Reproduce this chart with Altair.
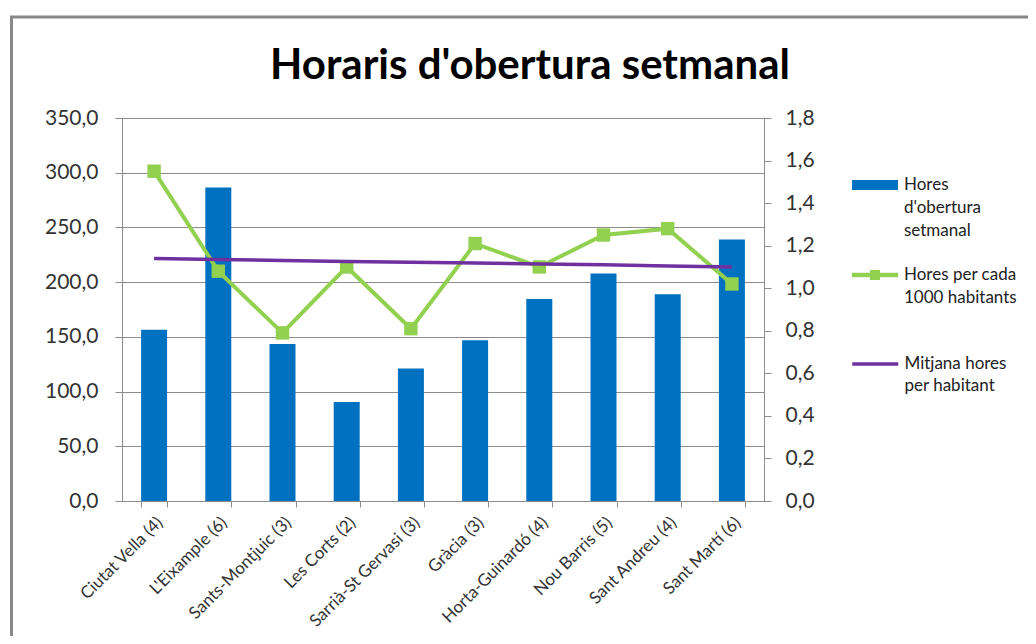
import altair as alt
import pandas as pd

districtes = ["Ciutat Vella (4)", "L'Eixample (6)", "Sants-Montjuic (3)", "Les Corts (2)",
              "Sarrià-St Gervasi (3)", "Gràcia (3)", "Horta-Guinardó (4)", "Nou Barris (5)",
              "Sant Andreu (4)", "Sant Martí (6)"]
hores_setmanal = [156.5, 286.5, 143.5, 90.5, 121.0, 147.0, 184.5, 208.0, 189.0, 239.0]
hores_1000 = [1.55, 1.08, 0.79, 1.10, 0.81, 1.21, 1.10, 1.25, 1.28, 1.02]
mitjana = [1.14, 1.135, 1.13, 1.126, 1.122, 1.118, 1.114, 1.11, 1.105, 1.10]

left_ticks = [0, 50, 100, 150, 200, 250, 300, 350]
right_ticks = [0, 0.2, 0.4, 0.6, 0.8, 1.0, 1.2, 1.4, 1.6, 1.8]

# legend labels, one entry per printed line
lines_bar = ["Hores", "d'obertura", "setmanal"]
lines_green = ["Hores per cada", "1000 habitants"]
lines_purple = ["Mitjana hores", "per habitant"]

df = pd.DataFrame({
    "districte": districtes,
    "hores": hores_setmanal,
    "h1000": hores_1000,
    "mitjana": mitjana,
    "s_bar": lines_bar[0],
    "s_green": lines_green[0],
    "s_purple": lines_purple[0],
})

FONT = "Lato"
GRAY = "#8c8c8c"
BLUE = "#0070c0"
GREEN = "#92d050"
PURPLE = "#7030a0"
NONE = "transparent"
fmt = "replace(format(datum.value, '.1f'), '.', ',')"

xenc = alt.X("districte:N", sort=None, title=None,
             scale=alt.Scale(paddingInner=0.595, paddingOuter=0.2975),
             axis=alt.Axis(labelAngle=-45, labelAlign="right", labelBaseline="top",
                           labelFont=FONT, labelFontSize=17, labelColor="#333333",
                           labelPadding=7, tickBand="extent", tickSize=6, tickColor=GRAY,
                           domainColor=GRAY, labelLimit=300))


def legend(y, path, offset=29, rowpad=3.0, **kw):
    return alt.Legend(orient="none", legendX=730, legendY=y, title=None, padding=0,
                      symbolType=path, symbolSize=529, labelFont=FONT, labelFontSize=17,
                      labelColor="#222222", labelBaseline="middle", labelOffset=offset,
                      labelLimit=400, rowPadding=rowpad, symbolOpacity=1, **kw)


bars = alt.Chart(df).mark_bar(color=BLUE).encode(
    x=xenc,
    y=alt.Y("hores:Q", title=None,
            scale=alt.Scale(domain=[0, 350], nice=False),
            axis=alt.Axis(values=left_ticks, labelExpr=fmt, labelFont=FONT, labelFontSize=21,
                          labelColor="#333333", tickSize=7, tickColor=GRAY, domainColor=GRAY,
                          gridColor=GRAY, labelPadding=17)),
    color=alt.Color("s_bar:N",
                    scale=alt.Scale(domain=lines_bar, range=[BLUE, NONE, NONE]),
                    legend=legend(55.5, "M-1,-0.435H3V0.435H-1Z", symbolStrokeWidth=0)),
)

yright = alt.Y("h1000:Q", title=None,
               scale=alt.Scale(domain=[0, 1.8], nice=False),
               axis=alt.Axis(orient="right", values=right_ticks, labelExpr=fmt, labelFont=FONT,
                             labelFontSize=21, labelColor="#333333", tickSize=7,
                             tickColor=GRAY, domainColor=GRAY, grid=False, labelPadding=14))

green_line = alt.Chart(df).mark_line(strokeWidth=4, color=GREEN).encode(x=xenc, y=yright)

green_pts = alt.Chart(df).mark_point(shape="square", size=180, filled=True, opacity=1).encode(
    x=xenc,
    y=alt.Y("h1000:Q", title=None, scale=alt.Scale(domain=[0, 1.8], nice=False), axis=None),
    color=alt.Color("s_green:N",
                    scale=alt.Scale(domain=lines_green, range=[GREEN, NONE]),
                    legend=legend(145.5, "M-1,-0.2H3V0.2H-1Z M0.565,-0.435H1.435V0.435H0.565Z",
                                  rowpad=2.5, symbolStrokeWidth=0)),
)

purple = alt.Chart(df).mark_line(strokeWidth=3.5).encode(
    x=xenc,
    y=alt.Y("mitjana:Q", title=None, scale=alt.Scale(domain=[0, 1.8], nice=False), axis=None),
    color=alt.Color("s_purple:N",
                    scale=alt.Scale(domain=lines_purple, range=[PURPLE, NONE]),
                    legend=legend(232.5, "M-1.15,0H2.85", offset=25.5, rowpad=0,
                                  symbolStrokeWidth=3.5)),
)

frame_v = alt.Chart(alt.Data(values=[{}])).mark_rule(color="#888888", strokeWidth=3).encode(
    x=alt.value(-110.5), y=alt.value(-102), y2=alt.value(530))
frame_h = alt.Chart(alt.Data(values=[{}])).mark_rule(color="#888888", strokeWidth=3).encode(
    x=alt.value(-112), x2=alt.value(910), y=alt.value(-101))

chart = alt.layer(bars, green_line, green_pts, purple, frame_v, frame_h).resolve_scale(
    y="independent", color="independent"
).resolve_legend(color="independent").properties(
    width=642, height=383,
    padding={"left": 114, "top": 110, "right": 264, "bottom": 135},
    autosize=alt.AutoSizeParams(type="none"),
    title=alt.TitleParams("Horaris d'obertura setmanal", font=FONT, fontSize=42,
                          fontWeight="bold", color="#000000", anchor="middle",
                          frame="group", dx=87, dy=106.5, offset=0, baseline="alphabetic"),
).configure_view(stroke=None).configure(background="white")

chart.save("out.html", embed_options={"renderer": "svg", "actions": False})
